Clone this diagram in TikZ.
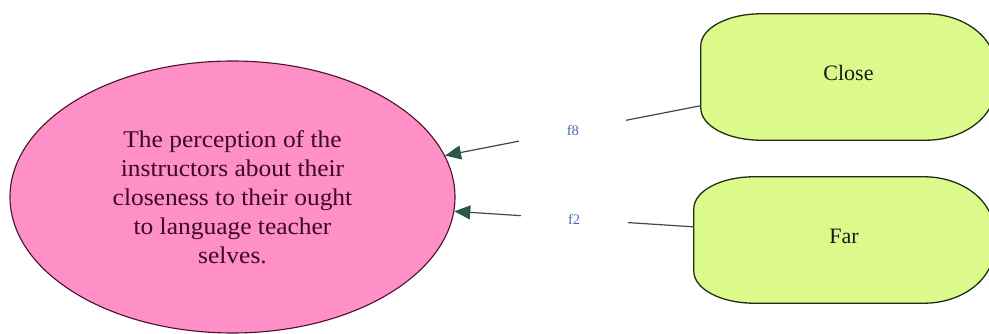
\documentclass[tikz,border=0pt]{standalone}
\usepackage{fontspec}
\setmainfont{Liberation Serif}
\newfontfamily\ellfont{Liberation Serif}[FakeStretch=1.06]
\usetikzlibrary{shapes.geometric,arrows.meta,backgrounds}
\definecolor{pinkfill}{HTML}{FF8FC7}
\definecolor{pinkline}{HTML}{4A1030}
\definecolor{ellText}{HTML}{3C0A22}
\definecolor{limefill}{HTML}{DCF98B}
\definecolor{limeline}{HTML}{1F2E16}
\definecolor{connline}{HTML}{3E4A45}
\definecolor{headgreen}{HTML}{2A5A47}
\definecolor{lblblue}{HTML}{4A66B0}
\tikzset{
  x=1pt, y=1pt,
  ellnode/.style={ellipse, draw=pinkline, fill=pinkfill, line width=1.1pt,
    minimum width=445pt, minimum height=272pt, inner sep=0pt,
    align=center, text=ellText,
    font=\ellfont\fontsize{24}{29}\selectfont},
  boxnode/.style={rectangle, draw=none, inner sep=0pt, text depth=8pt,
    minimum height=126pt, font=\fontsize{22}{26}\selectfont, text=black!90},
  boxline/.style={draw=limeline, fill=limefill, line width=1.3pt},
  conn/.style={draw=connline, line width=1.2pt},
  lbl/.style={fill=white, inner sep=0pt, minimum width=107pt, minimum height=26pt,
    text=lblblue, font=\fontsize{14.5}{16}\selectfont},
  headarrow/.style={-{Triangle[length=16pt,width=14pt,color=headgreen]}}
}
\newcommand\ovalboxpath[1]{%
  \path[boxline]
    ([xshift=60pt]#1.north west) -- ([xshift=-70pt]#1.north east)
    arc[start angle=90,end angle=0,x radius=70pt,y radius=55pt]
    -- ([yshift=55pt]#1.south east)
    arc[start angle=0,end angle=-90,x radius=70pt,y radius=55pt]
    -- ([xshift=60pt]#1.south west)
    arc[start angle=270,end angle=180,x radius=60pt,y radius=32pt]
    -- ([yshift=-32pt]#1.north west)
    arc[start angle=180,end angle=90,x radius=60pt,y radius=32pt]
    -- cycle;}
\begin{document}
\begin{tikzpicture}
\useasboundingbox (0,0) rectangle (989,334);
\clip (0,0) rectangle (989,334);

\node[ellnode] (ell) at (232.5,137) {The perception of the\\instructors about their\\closeness to their ought\\to language teacher\\selves.};

\node[boxnode, minimum width=295pt] (close) at (848.5,257) {Close};
\node[boxnode, minimum width=300pt] (far) at (844,94) {Far};

\begin{scope}[on background layer]
  \fill[white] (0,0) rectangle (989,334);
  \ovalboxpath{close}
  \ovalboxpath{far}
\end{scope}

\draw[conn, headarrow] (close.191.8) -- node[lbl] (f8) {f8} (ell);
\draw[conn, headarrow] (far.175.3) -- node[lbl] (f2) {f2} (ell);
\end{tikzpicture}
\end{document}
